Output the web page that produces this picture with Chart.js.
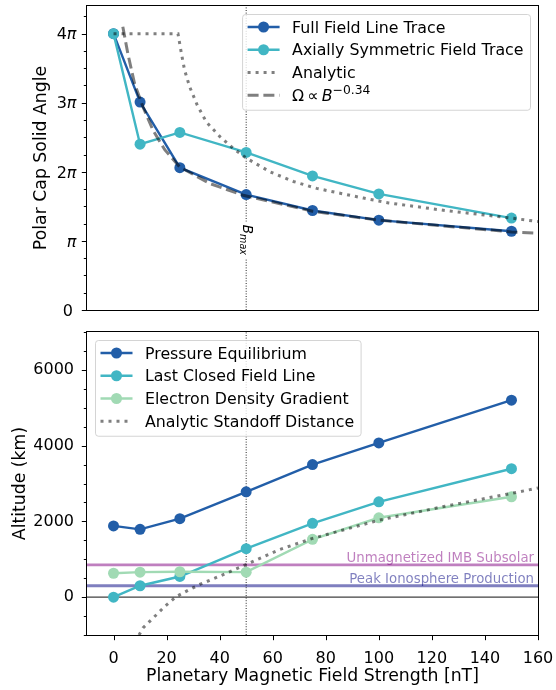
<!DOCTYPE html>
<html>
<head>
<meta charset="utf-8">
<script src="https://cdn.jsdelivr.net/npm/chart.js@4.4.1/dist/chart.umd.min.js"></script>
<style>
  html, body { margin: 0; padding: 0; background: #fff; }
  #wrap { position: relative; width: 556px; height: 690px; }
  canvas { position: absolute; left: 0; }
</style>
</head>
<body>
<div id="wrap">
  <canvas id="solid" width="556" height="322" style="top:0px"></canvas>
  <canvas id="alt" width="556" height="368" style="top:322px"></canvas>
</div>
<script>
const PI = Math.PI;

// ---- shared x axis: planetary magnetic field strength (nT) ----
const fieldStrength = [0, 10, 25, 50, 75, 100, 150];
const fieldTicks = [0, 20, 40, 60, 80, 100, 120, 140, 160];
const fieldRange = [-10, 160];
const B_MAX = 50;

// ---- upper panel: polar cap solid angle, in units of pi ----
const fullTraceOmega = [4.0, 3.01, 2.06, 1.67, 1.44, 1.30, 1.14];
const axisymTraceOmega = [4.0, 2.40, 2.57, 2.28, 1.94, 1.68, 1.33];
const analyticB = [0, 10, 20, 24.3, 25.6, 26.8, 28.7, 31.5, 35, 40.1, 45.1, 50, 59, 67.8, 76.6, 85.4, 94.2, 103.7, 125, 150, 160];
const analyticOmega = [4.0, 4.0, 4.0, 4.0, 3.71, 3.47, 3.23, 2.97, 2.72, 2.51, 2.34, 2.20, 2.00, 1.86, 1.76, 1.69, 1.62, 1.55, 1.44, 1.33, 1.28];
const fitB = [3.5, 5.4, 7.9, 11.1, 14.9, 19.3, 25, 36.3, 48.9, 75, 100, 150, 160];
const fitOmega = [4.10, 3.71, 3.28, 2.94, 2.60, 2.32, 2.07, 1.83, 1.66, 1.43, 1.30, 1.13, 1.11];
const solidTickMultiples = [0, 1, 2, 3, 4];
const solidTickLabels = ['0', 'π', '2π', '3π', '4π'];
const solidRange = [0, 4.4]; // in units of pi

// ---- lower panel: altitude (km) ----
const pressureAlt = [1880, 1790, 2070, 2780, 3500, 4070, 5200];
const closedLineAlt = [0, 300, 545, 1280, 1950, 2515, 3390];
const densityGradAlt = [630, 660, 670, 660, 1525, 2095, 2650];
const standoffB = [9.6, 11.1, 14.9, 19.3, 23.7, 28.1, 32.5, 38.2, 50, 62.7, 75, 100, 125, 150, 160];
const standoffAlt = [-1000, -815, -553, -247, 16, 180, 335, 500, 860, 1260, 1550, 2030, 2400, 2740, 2880];
const IMB_ALT = 850;
const PEAK_PROD_ALT = 300;
const altTicks = [0, 2000, 4000, 6000];
const altRange = [-1000, 7000];

// ---- styling ----
const FONT = '"DejaVu Sans", sans-serif';
Chart.defaults.font.family = FONT;
Chart.defaults.color = '#000';
const BLUE = '#225ea8', CYAN = '#41b6c4', GREEN = '#a1dab4';
const GUIDE = 'rgba(0,0,0,0.5)';
const IMB_COLOR = 'rgba(128,0,128,0.5)';
const PROD_COLOR = 'rgba(0,0,128,0.5)';
const TICK_FONT = 16, LEGEND_FONT = 15.8, TITLE_FONT = 17.3, NOTE_FONT = 13.3;
const DOTTED = [3, 5], DASHED = [11, 4.8];

function series(xs, ys, scale) {
  return xs.map((x, i) => ({ x: x, y: ys[i] * (scale || 1) }));
}
function markerLine(label, xs, ys, color, order, scale) {
  return {
    label, data: series(xs, ys, scale), borderColor: color, backgroundColor: color,
    pointBackgroundColor: color, pointBorderWidth: 0, pointRadius: 5.5, pointHoverRadius: 5.5,
    borderWidth: 2.4, order, tension: 0, fill: false, clip: 0, inLegend: true
  };
}
function plainLine(label, xs, ys, color, width, dash, order, scale) {
  return {
    label, data: series(xs, ys, scale), borderColor: color, backgroundColor: color,
    borderWidth: width, borderDash: dash, pointRadius: 0, pointHoverRadius: 0,
    order, tension: 0, fill: false, clip: 0, inLegend: !!label
  };
}

function setFont(ctx, size, style) {
  ctx.font = (style === 'i' ? 'italic ' : '') + size + 'px ' + FONT;
}
function runs(d) { return d.rich || [[d.label, 'n']]; }
function runsWidth(ctx, list, size) {
  let w = 0;
  for (const [t, s] of list) {
    setFont(ctx, s === 'sup' ? size * 0.78 : size, s);
    w += ctx.measureText(t).width;
  }
  return w;
}
function drawRuns(ctx, list, x, base, size) {
  for (const [t, s] of list) {
    const sz = s === 'sup' ? size * 0.78 : size;
    setFont(ctx, sz, s);
    ctx.fillText(t, x, s === 'sup' ? base - size * 0.43 : base);
    x += ctx.measureText(t).width;
  }
}

// legend box in the style of a framed inset legend
function drawLegend(chart, anchor) {
  const ctx = chart.ctx, a = chart.chartArea;
  const items = chart.data.datasets.filter(d => d.inLegend);
  const padL = 5.5, handle = 32, gap = 12.5, padR = 6.5, inset = 8, first = 13, row = 22.75, last = 14.5;
  ctx.save();
  const textW = Math.max(...items.map(d => runsWidth(ctx, runs(d), LEGEND_FONT)));
  const W = padL + handle + gap + textW + padR;
  const H = first + (items.length - 1) * row + last;
  const left = anchor === 'right' ? a.right - inset - W : a.left + inset;
  const top = a.top + inset;
  ctx.beginPath();
  ctx.roundRect(left + 0.5, top + 0.5, W, H, 3);
  ctx.fillStyle = 'rgba(255,255,255,0.8)';
  ctx.fill();
  ctx.strokeStyle = 'rgba(204,204,204,0.85)';
  ctx.lineWidth = 1;
  ctx.stroke();
  items.forEach((d, i) => {
    const y = top + first + i * row;
    const x0 = left + padL, x1 = x0 + handle;
    ctx.save();
    ctx.strokeStyle = d.borderColor;
    ctx.lineWidth = d.borderWidth;
    ctx.setLineDash(d.borderDash || []);
    ctx.beginPath();
    ctx.moveTo(x0, y); ctx.lineTo(x1, y);
    ctx.stroke();
    ctx.restore();
    if (d.pointRadius > 0) {
      ctx.beginPath();
      ctx.arc((x0 + x1) / 2, y, d.pointRadius, 0, 2 * PI);
      ctx.fillStyle = d.pointBackgroundColor;
      ctx.fill();
    }
    ctx.fillStyle = '#000';
    ctx.textAlign = 'left';
    ctx.textBaseline = 'alphabetic';
    drawRuns(ctx, runs(d), x1 + gap, y + LEGEND_FONT * 0.36, LEGEND_FONT);
  });
  ctx.restore();
}

// axes frame plus outward major/minor tick marks
function drawFrame(chart, yMajor, yMinor, xMajor) {
  const ctx = chart.ctx, a = chart.chartArea, xs = chart.scales.x, ys = chart.scales.y;
  ctx.save();
  ctx.strokeStyle = '#000';
  ctx.lineWidth = 1;
  ctx.strokeRect(Math.round(a.left) - 0.5, Math.round(a.top) - 0.5,
                 Math.round(a.right - a.left) + 1, Math.round(a.bottom - a.top) + 1);
  ctx.beginPath();
  for (const v of yMajor) {
    const y = Math.round(ys.getPixelForValue(v)) + 0.5;
    ctx.moveTo(a.left - 0.5, y); ctx.lineTo(a.left - 5.2, y);
  }
  for (const v of yMinor) {
    const y = Math.round(ys.getPixelForValue(v)) + 0.5;
    ctx.moveTo(a.left - 0.5, y); ctx.lineTo(a.left - 3.2, y);
  }
  for (const v of xMajor) {
    const x = Math.round(xs.getPixelForValue(v)) + 0.5;
    ctx.moveTo(x, a.bottom + 0.5); ctx.lineTo(x, a.bottom + 5.2);
  }
  ctx.stroke();
  ctx.restore();
}

const fixedWidthY = s => { s.width = 87; };
// invisible tick marks that only offset the tick labels from the axis
const spacerGrid = len => ({ display: true, drawOnChartArea: false, drawTicks: true, tickLength: len, color: 'rgba(0,0,0,0)' });

// ------------------------------------------------------------------
// upper panel
// ------------------------------------------------------------------
const solidMinor = [];
for (let k = 0; k <= solidRange[1] * 4; k++) if (k % 4) solidMinor.push(k * PI / 4);

const solidDecor = {
  id: 'solidDecor',
  afterDatasetsDraw(chart) {
    const ctx = chart.ctx, xs = chart.scales.x, ys = chart.scales.y;
    drawFrame(chart, solidTickMultiples.map(k => k * PI), solidMinor, []);
    // pi-multiple tick labels
    ctx.save();
    ctx.fillStyle = '#000';
    ctx.textBaseline = 'alphabetic';
    solidTickMultiples.forEach((k, i) => {
      const y = ys.getPixelForValue(k * PI) + TICK_FONT * 0.36;
      const lab = solidTickLabels[i];
      if (lab.indexOf('π') < 0) {
        setFont(ctx, TICK_FONT, 'n');
        ctx.textAlign = 'right';
        ctx.fillText(lab, 73, y);
      } else {
        const num = lab.replace('π', '');
        setFont(ctx, TICK_FONT, 'i');
        const wp = ctx.measureText('π').width;
        ctx.textAlign = 'right';
        ctx.fillText('π', 76.5, y);
        if (num) {
          setFont(ctx, TICK_FONT, 'n');
          ctx.fillText(num, 76.5 - wp, y);
        }
      }
    });
    ctx.restore();
    // B_max marker label on the vertical guide
    const px = xs.getPixelForValue(B_MAX), py = ys.getPixelForValue(PI);
    ctx.save();
    ctx.translate(px, py);
    ctx.rotate(PI / 2);
    setFont(ctx, 13.5, 'i');
    const wB = ctx.measureText('B').width;
    setFont(ctx, 9.6, 'i');
    const wM = ctx.measureText('max').width;
    const start = -(wB + wM) / 2 - 1;
    ctx.fillStyle = '#fff';
    ctx.fillRect(start - 3, -9, wB + wM + 7, 19);
    ctx.fillStyle = '#000';
    ctx.textAlign = 'left';
    ctx.textBaseline = 'alphabetic';
    setFont(ctx, 13.5, 'i');
    ctx.fillText('B', start, 3.3);
    setFont(ctx, 9.6, 'i');
    ctx.fillText('max', start + wB, 6.6);
    ctx.restore();
    drawLegend(chart, 'right');
  }
};

new Chart(document.getElementById('solid'), {
  type: 'line',
  data: {
    datasets: [
      markerLine('Full Field Line Trace', fieldStrength, fullTraceOmega, BLUE, 4, PI),
      markerLine('Axially Symmetric Field Trace', fieldStrength, axisymTraceOmega, CYAN, 3, PI),
      plainLine('Analytic', analyticB, analyticOmega, GUIDE, 3, DOTTED, 2, PI),
      Object.assign(plainLine('Ω ∝ B^−0.34', fitB, fitOmega, GUIDE, 3, DASHED, 1, PI),
        { rich: [['Ω\u2009∝\u2009', 'n'], ['B', 'i'], ['−0.34', 'sup']] }),
      plainLine(null, [B_MAX, B_MAX], solidRange, 'rgba(0,0,0,0.85)', 1, [1, 1.6], 6, PI)
    ]
  },
  options: {
    responsive: false, animation: false, devicePixelRatio: 1,
    layout: { padding: { left: 0, right: 18, top: 6, bottom: 12 } },
    plugins: { legend: { display: false }, tooltip: { enabled: false } },
    events: [],
    scales: {
      x: { type: 'linear', min: fieldRange[0], max: fieldRange[1], display: false },
      y: {
        type: 'linear', min: solidRange[0] * PI, max: solidRange[1] * PI,
        afterFit: fixedWidthY,
        grid: { display: false, drawTicks: false },
        border: { display: false },
        ticks: { display: false },
        title: { display: true, text: 'Polar Cap Solid Angle', font: { size: TITLE_FONT }, color: '#000', padding: { top: 31.5, bottom: 0 } }
      }
    }
  },
  plugins: [solidDecor]
});

// ------------------------------------------------------------------
// lower panel
// ------------------------------------------------------------------
const altMinor = [];
for (let v = altRange[0]; v <= altRange[1]; v += 500) if (v % 2000) altMinor.push(v);

const altDecor = {
  id: 'altDecor',
  afterDatasetsDraw(chart) {
    const ctx = chart.ctx, a = chart.chartArea, ys = chart.scales.y;
    drawFrame(chart, altTicks, altMinor, fieldTicks);
    ctx.save();
    setFont(ctx, NOTE_FONT, 'n');
    ctx.textAlign = 'right';
    ctx.textBaseline = 'alphabetic';
    ctx.fillStyle = IMB_COLOR;
    ctx.fillText('Unmagnetized IMB Subsolar', a.right - 4, ys.getPixelForValue(IMB_ALT) - 2.6);
    ctx.fillStyle = PROD_COLOR;
    ctx.fillText('Peak Ionosphere Production', a.right - 4, ys.getPixelForValue(PEAK_PROD_ALT) - 2.6);
    ctx.restore();
    drawLegend(chart, 'left');
  }
};

new Chart(document.getElementById('alt'), {
  type: 'line',
  data: {
    datasets: [
      markerLine('Pressure Equilibrium', fieldStrength, pressureAlt, BLUE, 4),
      markerLine('Last Closed Field Line', fieldStrength, closedLineAlt, CYAN, 3),
      markerLine('Electron Density Gradient', fieldStrength, densityGradAlt, GREEN, 2),
      plainLine('Analytic Standoff Distance', standoffB, standoffAlt, GUIDE, 3, DOTTED, 1),
      plainLine(null, fieldRange, [IMB_ALT, IMB_ALT], IMB_COLOR, 2.8, [], 7),
      plainLine(null, fieldRange, [PEAK_PROD_ALT, PEAK_PROD_ALT], PROD_COLOR, 2.8, [], 7),
      plainLine(null, fieldRange, [0, 0], 'rgba(0,0,0,0.75)', 1.1, [], 8),
      plainLine(null, [B_MAX, B_MAX], altRange, 'rgba(0,0,0,0.85)', 1, [1, 1.6], 6)
    ]
  },
  options: {
    responsive: false, animation: false, devicePixelRatio: 1,
    layout: { padding: { left: 0, right: 18, top: 10, bottom: 0 } },
    plugins: { legend: { display: false }, tooltip: { enabled: false } },
    events: [],
    scales: {
      x: {
        type: 'linear', min: fieldRange[0], max: fieldRange[1],
        afterFit: s => { s.height = 55; },
        afterBuildTicks: s => { s.ticks = fieldTicks.map(v => ({ value: v })); },
        grid: spacerGrid(13.8),
        border: { display: false },
        ticks: { font: { size: TICK_FONT }, color: '#000', padding: 0, maxRotation: 0, autoSkip: false, callback: v => String(v) },
        title: { display: true, text: 'Planetary Magnetic Field Strength [nT]', font: { size: TITLE_FONT }, color: '#000', padding: { top: 0, bottom: 3 } }
      },
      y: {
        type: 'linear', min: altRange[0], max: altRange[1],
        afterFit: fixedWidthY,
        afterBuildTicks: s => { s.ticks = altTicks.map(v => ({ value: v })); },
        grid: spacerGrid(13),
        border: { display: false },
        ticks: { font: { size: TICK_FONT }, color: '#000', padding: 0, autoSkip: false, callback: v => String(v) },
        title: { display: true, text: 'Altitude (km)', font: { size: TITLE_FONT }, color: '#000', padding: { top: 10.5, bottom: 0 } }
      }
    }
  },
  plugins: [altDecor]
});
</script>
</body>
</html>
